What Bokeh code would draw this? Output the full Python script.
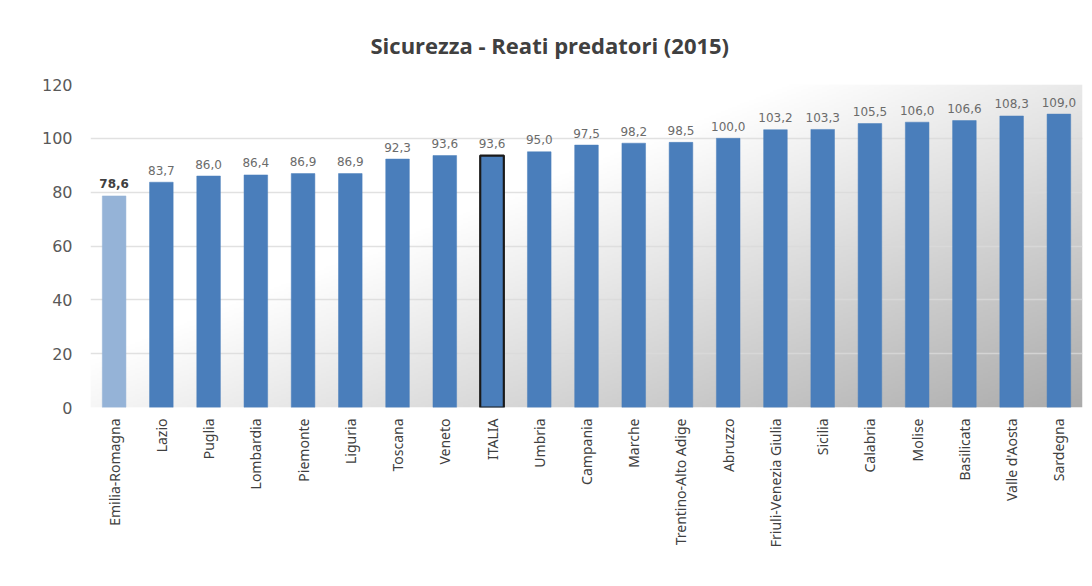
import numpy as np
from bokeh.plotting import figure
from bokeh.models import ColumnDataSource, Range1d, FactorRange
from bokeh.core.properties import value
from bokeh.embed import file_html
from bokeh.resources import INLINE

regions = ["Emilia-Romagna", "Lazio", "Puglia", "Lombardia", "Piemonte", "Liguria",
           "Toscana", "Veneto", "ITALIA", "Umbria", "Campania", "Marche",
           "Trentino-Alto Adige", "Abruzzo", "Friuli-Venezia Giulia", "Sicilia",
           "Calabria", "Molise", "Basilicata", "Valle d'Aosta", "Sardegna"]
values = [78.6, 83.7, 86.0, 86.4, 86.9, 86.9, 92.3, 93.6, 93.6, 95.0, 97.5, 98.2,
          98.5, 100.0, 103.2, 103.3, 105.5, 106.0, 106.6, 108.3, 109.0]
y_ticks = [0, 20, 40, 60, 80, 100, 120]
title_text = "Sicurezza - Reati predatori  (2015)"

BLUE = "#4a7ebb"
LIGHT = "#95b3d7"

fill = [LIGHT if r == "Emilia-Romagna" else BLUE for r in regions]
line = ["#1a1a1a" if r == "ITALIA" else f for r, f in zip(regions, fill)]
lw = [2.2 if r == "ITALIA" else 0.5 for r in regions]
labels = [f"{v:.1f}".replace(".", ",") for v in values]
lstyle = ["bold" if r == "Emilia-Romagna" else "normal" for r in regions]
lcolor = ["#404040" if r == "Emilia-Romagna" else "#6b6b6b" for r in regions]

src = ColumnDataSource(dict(x=regions, top=values, fill=fill, line=line, lw=lw,
                            lab=labels, lstyle=lstyle, lcolor=lcolor))

W, H = 1084, 578
p = figure(x_range=FactorRange(*regions), y_range=Range1d(0, 120),
           width=W, height=H, output_backend="svg", toolbar_location=None,
           min_border_left=90, min_border_right=2, min_border_top=84,
           min_border_bottom=171, title=title_text)
p.outline_line_color = None
p.background_fill_color = "white"
p.border_fill_color = "white"

p.title.align = "left"
p.title.offset = 280
p.title.text_font = "Open Sans"
p.title.text_font_style = "bold"
p.title.text_font_size = "22px"
p.title.text_color = "#404040"
p.title.standoff = 49

# diagonal gradient background of the plot area
N, M = 200, 420
xf = np.linspace(0, 1, M)[None, :]
yt = 1 - np.linspace(0, 1, N)[:, None]   # row 0 is bottom
t = np.clip(0.85 * xf + 0.7 * yt - 0.6, 0, 1)
g = (255 - t * 88).astype(np.uint8)
img = np.empty((N, M), dtype=np.uint32)
v = img.view(dtype=np.uint8).reshape((N, M, 4))
v[:, :, 0] = g
v[:, :, 1] = g
v[:, :, 2] = g
v[:, :, 3] = 255
bg = p.image_rgba(image=[img], x=0, y=0, dw=len(regions), dh=120)
bg.level = "image"

p.vbar(x="x", top="top", width=0.5, source=src, fill_color="fill",
       line_color="line", line_width="lw")

p.text(x="x", y="top", text="lab", source=src, text_align="center",
       text_baseline="alphabetic", y_offset=-12, text_font_size="12px",
       text_font=value("DejaVu Sans"), text_color="lcolor",
       text_font_style="lstyle")

p.xgrid.grid_line_color = None
p.ygrid.grid_line_color = "#d9d9d9"
p.ygrid.grid_line_width = 1.5
p.ygrid.grid_line_alpha = 0.8
p.yaxis.ticker = y_ticks

for ax in (p.xaxis[0], p.yaxis[0]):
    ax.axis_line_color = None
    ax.major_tick_line_color = None
    ax.minor_tick_line_color = None
    ax.major_tick_out = 0
    ax.major_tick_in = 0

p.yaxis.major_label_text_font = "DejaVu Sans"
p.yaxis.major_label_text_font_size = "16px"
p.yaxis.major_label_text_color = "#595959"
p.yaxis.major_label_standoff = 18

p.xaxis.major_label_orientation = np.pi / 2
p.xaxis.major_label_text_font = "Noto Sans"
p.xaxis.major_label_text_font_size = "14px"
p.xaxis.major_label_text_color = "#404040"
p.xaxis.major_label_standoff = 11

open("out.html", "w").write(file_html(p, INLINE))
